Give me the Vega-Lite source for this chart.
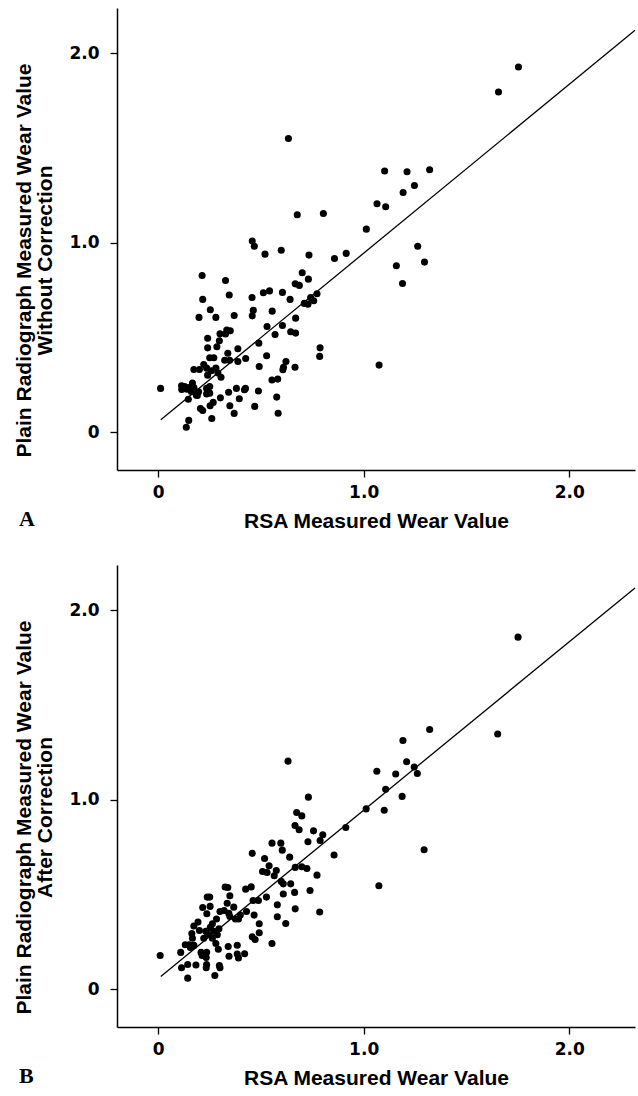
{
  "$schema": "https://vega.github.io/schema/vega-lite/v6.json",
  "background": "white",
  "padding": {"left": 13, "top": 8, "right": 3, "bottom": 0},
  "spacing": 34,
  "config": {
    "view": {"stroke": null},
    "axis": {
      "grid": false,
      "domainColor": "black",
      "domainWidth": 1.5,
      "tickColor": "black",
      "tickWidth": 1.3,
      "tickSize": 7,
      "labelFont": "DejaVu Sans",
      "labelFontWeight": "bold",
      "labelFontSize": 17,
      "labelColor": "black",
      "titleFont": "Liberation Sans",
      "titleFontWeight": "bold",
      "titleFontSize": 21,
      "titleColor": "black"
    }
  },
  "datasets": {
    "pointsA": [
      {"x":1.753,"y":1.928},{"x":1.656,"y":1.796},{"x":0.634,"y":1.551},{"x":1.102,"y":1.379},{"x":1.211,"y":1.375},
      {"x":1.321,"y":1.386},{"x":1.247,"y":1.303},{"x":1.192,"y":1.266},{"x":1.065,"y":1.206},{"x":1.107,"y":1.19},
      {"x":0.677,"y":1.148},{"x":0.804,"y":1.155},{"x":1.013,"y":1.072},{"x":0.458,"y":1.009},{"x":0.468,"y":0.982},
      {"x":0.599,"y":0.961},{"x":0.52,"y":0.94},{"x":0.734,"y":0.935},{"x":0.915,"y":0.944},{"x":0.858,"y":0.917},
      {"x":1.263,"y":0.982},{"x":1.296,"y":0.898},{"x":1.159,"y":0.879},{"x":1.189,"y":0.785},{"x":0.214,"y":0.827},
      {"x":0.328,"y":0.801},{"x":0.701,"y":0.842},{"x":0.731,"y":0.808},{"x":0.667,"y":0.783},{"x":0.687,"y":0.775},
      {"x":0.346,"y":0.724},{"x":0.217,"y":0.701},{"x":0.457,"y":0.711},{"x":0.512,"y":0.736},{"x":0.542,"y":0.746},
      {"x":0.605,"y":0.738},{"x":0.642,"y":0.701},{"x":0.773,"y":0.731},{"x":0.742,"y":0.711},{"x":0.757,"y":0.694},
      {"x":0.711,"y":0.68},{"x":0.729,"y":0.676},{"x":0.254,"y":0.646},{"x":0.463,"y":0.644},{"x":0.555,"y":0.639},
      {"x":0.199,"y":0.606},{"x":0.281,"y":0.606},{"x":0.37,"y":0.616},{"x":0.458,"y":0.614},{"x":0.669,"y":0.602},
      {"x":0.53,"y":0.558},{"x":0.605,"y":0.563},{"x":0.645,"y":0.53},{"x":0.669,"y":0.523},{"x":0.569,"y":0.516},
      {"x":0.334,"y":0.539},{"x":0.351,"y":0.535},{"x":0.301,"y":0.519},{"x":0.328,"y":0.518},{"x":0.241,"y":0.496},
      {"x":0.298,"y":0.482},{"x":0.49,"y":0.47},{"x":0.241,"y":0.445},{"x":0.286,"y":0.451},{"x":0.388,"y":0.44},
      {"x":0.788,"y":0.445},{"x":0.786,"y":0.4},{"x":0.339,"y":0.417},{"x":0.528,"y":0.403},{"x":0.251,"y":0.393},
      {"x":0.271,"y":0.393},{"x":0.324,"y":0.38},{"x":0.348,"y":0.38},{"x":0.388,"y":0.373},{"x":0.426,"y":0.389},
      {"x":0.622,"y":0.373},{"x":0.222,"y":0.357},{"x":0.174,"y":0.331},{"x":0.201,"y":0.331},{"x":0.236,"y":0.338},
      {"x":0.259,"y":0.324},{"x":0.281,"y":0.338},{"x":0.291,"y":0.312},{"x":0.306,"y":0.29},{"x":0.241,"y":0.301},
      {"x":0.492,"y":0.347},{"x":0.61,"y":0.343},{"x":0.607,"y":0.329},{"x":0.666,"y":0.343},{"x":1.075,"y":0.354},
      {"x":0.554,"y":0.275},{"x":0.582,"y":0.28},{"x":0.012,"y":0.231},{"x":0.114,"y":0.245},{"x":0.129,"y":0.241},
      {"x":0.115,"y":0.225},{"x":0.14,"y":0.227},{"x":0.15,"y":0.236},{"x":0.167,"y":0.259},{"x":0.174,"y":0.236},
      {"x":0.161,"y":0.215},{"x":0.147,"y":0.174},{"x":0.186,"y":0.195},{"x":0.197,"y":0.213},{"x":0.191,"y":0.194},
      {"x":0.236,"y":0.231},{"x":0.251,"y":0.241},{"x":0.236,"y":0.202},{"x":0.251,"y":0.206},{"x":0.381,"y":0.231},
      {"x":0.425,"y":0.231},{"x":0.42,"y":0.224},{"x":0.343,"y":0.211},{"x":0.488,"y":0.217},{"x":0.303,"y":0.181},
      {"x":0.395,"y":0.176},{"x":0.577,"y":0.185},{"x":0.253,"y":0.139},{"x":0.268,"y":0.157},{"x":0.349,"y":0.139},
      {"x":0.47,"y":0.136},{"x":0.206,"y":0.125},{"x":0.217,"y":0.114},{"x":0.37,"y":0.099},{"x":0.584,"y":0.1},
      {"x":0.261,"y":0.072},{"x":0.149,"y":0.062},{"x":0.137,"y":0.026}
    ],
    "lineA": [{"x":0.013,"y":0.065},{"x":2.32,"y":2.122}],
    "pointsB": [
      {"x":1.751,"y":1.859},{"x":1.652,"y":1.347},{"x":1.321,"y":1.371},{"x":1.191,"y":1.313},{"x":0.632,"y":1.204},
      {"x":1.209,"y":1.201},{"x":1.064,"y":1.151},{"x":1.156,"y":1.136},{"x":1.246,"y":1.173},{"x":1.261,"y":1.139},
      {"x":1.107,"y":1.055},{"x":1.187,"y":1.018},{"x":0.731,"y":1.014},{"x":1.012,"y":0.952},{"x":1.1,"y":0.945},
      {"x":0.674,"y":0.933},{"x":0.699,"y":0.915},{"x":0.666,"y":0.864},{"x":0.686,"y":0.842},{"x":0.913,"y":0.854},
      {"x":0.756,"y":0.836},{"x":0.801,"y":0.815},{"x":0.788,"y":0.785},{"x":0.729,"y":0.778},{"x":0.554,"y":0.771},
      {"x":0.597,"y":0.771},{"x":0.604,"y":0.734},{"x":0.458,"y":0.717},{"x":0.856,"y":0.708},{"x":0.64,"y":0.697},
      {"x":0.518,"y":0.69},{"x":1.294,"y":0.736},{"x":0.54,"y":0.651},{"x":0.667,"y":0.643},{"x":0.699,"y":0.646},
      {"x":0.724,"y":0.637},{"x":0.575,"y":0.627},{"x":0.508,"y":0.621},{"x":0.53,"y":0.616},{"x":0.565,"y":0.599},
      {"x":0.773,"y":0.602},{"x":0.599,"y":0.569},{"x":0.609,"y":0.556},{"x":0.645,"y":0.556},{"x":1.074,"y":0.546},
      {"x":0.326,"y":0.539},{"x":0.339,"y":0.537},{"x":0.426,"y":0.528},{"x":0.453,"y":0.54},{"x":0.739,"y":0.521},
      {"x":0.664,"y":0.511},{"x":0.609,"y":0.502},{"x":0.349,"y":0.493},{"x":0.239,"y":0.486},{"x":0.251,"y":0.486},
      {"x":0.527,"y":0.486},{"x":0.462,"y":0.468},{"x":0.488,"y":0.468},{"x":0.336,"y":0.454},{"x":0.217,"y":0.431},
      {"x":0.253,"y":0.437},{"x":0.368,"y":0.433},{"x":0.58,"y":0.445},{"x":0.667,"y":0.424},{"x":0.301,"y":0.41},
      {"x":0.321,"y":0.415},{"x":0.344,"y":0.4},{"x":0.43,"y":0.41},{"x":0.786,"y":0.407},{"x":0.237,"y":0.398},
      {"x":0.349,"y":0.384},{"x":0.376,"y":0.37},{"x":0.391,"y":0.37},{"x":0.4,"y":0.391},{"x":0.467,"y":0.391},
      {"x":0.58,"y":0.382},{"x":0.284,"y":0.37},{"x":0.194,"y":0.354},{"x":0.264,"y":0.345},{"x":0.492,"y":0.345},
      {"x":0.621,"y":0.347},{"x":0.174,"y":0.333},{"x":0.254,"y":0.326},{"x":0.296,"y":0.319},{"x":0.201,"y":0.31},
      {"x":0.232,"y":0.306},{"x":0.271,"y":0.306},{"x":0.164,"y":0.294},{"x":0.242,"y":0.29},{"x":0.288,"y":0.287},
      {"x":0.492,"y":0.298},{"x":0.458,"y":0.276},{"x":0.167,"y":0.269},{"x":0.222,"y":0.269},{"x":0.264,"y":0.269},
      {"x":0.472,"y":0.262},{"x":0.132,"y":0.234},{"x":0.151,"y":0.234},{"x":0.174,"y":0.231},{"x":0.281,"y":0.241},
      {"x":0.554,"y":0.241},{"x":0.157,"y":0.22},{"x":0.293,"y":0.211},{"x":0.341,"y":0.225},{"x":0.385,"y":0.232},
      {"x":0.11,"y":0.194},{"x":0.209,"y":0.194},{"x":0.236,"y":0.195},{"x":0.421,"y":0.187},{"x":0.01,"y":0.178},
      {"x":0.214,"y":0.178},{"x":0.234,"y":0.167},{"x":0.345,"y":0.174},{"x":0.385,"y":0.185},{"x":0.391,"y":0.165},
      {"x":0.144,"y":0.13},{"x":0.184,"y":0.127},{"x":0.236,"y":0.13},{"x":0.298,"y":0.125},{"x":0.114,"y":0.113},
      {"x":0.234,"y":0.113},{"x":0.301,"y":0.113},{"x":0.276,"y":0.072},{"x":0.144,"y":0.058}
    ],
    "lineB": [{"x":0.013,"y":0.067},{"x":2.32,"y":2.119}]
  },
  "vconcat": [
    {
      "width": 518,
      "height": 462,
      "title": {"text": "A", "orient": "bottom", "anchor": "start", "frame": "bounds", "font": "Liberation Serif", "fontSize": 22, "fontWeight": "bold", "color": "black", "offset": -22, "dx": 5},
      "encoding": {
        "x": {"field": "x", "type": "quantitative",
          "scale": {"domain": [-0.2, 2.32], "nice": false, "zero": false},
          "axis": {"values": [0, 1, 2], "labelExpr": "datum.value == 0 ? '0' : format(datum.value, '.1f')", "title": "RSA Measured Wear Value", "labelPadding": 7, "titlePadding": 10}},
        "y": {"field": "y", "type": "quantitative",
          "scale": {"domain": [-0.2, 2.24], "nice": false, "zero": false},
          "axis": {"values": [0, 1, 2], "labelExpr": "datum.value == 0 ? '0' : format(datum.value, '.1f')", "title": ["Plain Radiograph Measured Wear Value", "Without Correction"], "labelPadding": 11, "titlePadding": 13, "titleLineHeight": 21, "titleY": 252}}
      },
      "layer": [
        {"data": {"name": "pointsA"}, "mark": {"type": "circle", "color": "black", "opacity": 1, "size": 50}},
        {"data": {"name": "lineA"}, "mark": {"type": "line", "color": "black", "strokeWidth": 1.3}}
      ]
    },
    {
      "width": 518,
      "height": 462,
      "title": {"text": "B", "orient": "bottom", "anchor": "start", "frame": "bounds", "font": "Liberation Serif", "fontSize": 22, "fontWeight": "bold", "color": "black", "offset": -22, "dx": 5},
      "encoding": {
        "x": {"field": "x", "type": "quantitative",
          "scale": {"domain": [-0.2, 2.32], "nice": false, "zero": false},
          "axis": {"values": [0, 1, 2], "labelExpr": "datum.value == 0 ? '0' : format(datum.value, '.1f')", "title": "RSA Measured Wear Value", "labelPadding": 7, "titlePadding": 10}},
        "y": {"field": "y", "type": "quantitative",
          "scale": {"domain": [-0.2, 2.24], "nice": false, "zero": false},
          "axis": {"values": [0, 1, 2], "labelExpr": "datum.value == 0 ? '0' : format(datum.value, '.1f')", "title": ["Plain Radiograph Measured Wear Value", "After Correction"], "labelPadding": 11, "titlePadding": 13, "titleLineHeight": 21, "titleY": 252}}
      },
      "layer": [
        {"data": {"name": "pointsB"}, "mark": {"type": "circle", "color": "black", "opacity": 1, "size": 50}},
        {"data": {"name": "lineB"}, "mark": {"type": "line", "color": "black", "strokeWidth": 1.3}}
      ]
    }
  ]
}
